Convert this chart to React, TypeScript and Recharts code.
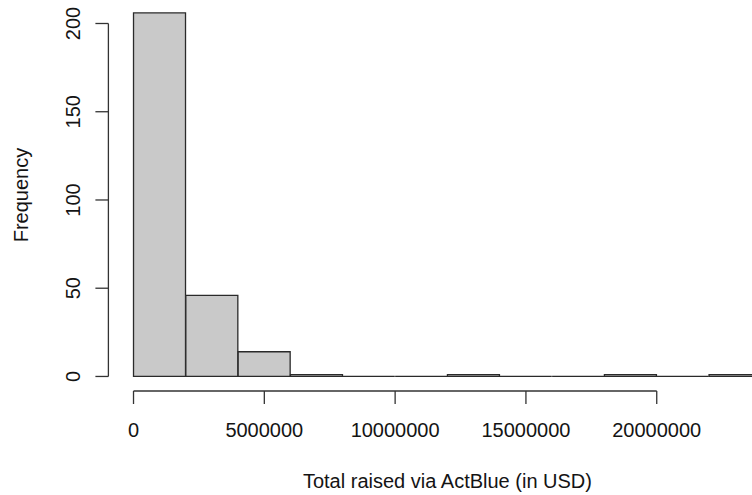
import React from 'react';
import { BarChart, Bar, XAxis, YAxis, ReferenceLine } from 'recharts';

// Histogram of totals raised via ActBlue, bins of 2,000,000 USD
const binStarts = [0, 2000000, 4000000, 6000000, 8000000, 10000000, 12000000, 14000000, 16000000, 18000000, 20000000, 22000000];
const binWidth = 2000000;
const frequencies = [206, 46, 14, 1, 0, 0, 1, 0, 0, 1, 0, 1];
const xTicks = [0, 5000000, 10000000, 15000000, 20000000];
const yTicks = [0, 50, 100, 150, 200];

const data = binStarts.map((start, i) => ({
  bin: `${start}-${start + binWidth}`,
  start,
  count: frequencies[i],
}));

// plotting range padded 4% on each side, as base graphics does
const xMin = binStarts[0];
const xMax = binStarts[binStarts.length - 1] + binWidth;
const xPad = (xMax - xMin) * 0.04;
const yPad = Math.max(...frequencies) * 0.04;

const FONT = '"Liberation Sans", Arial, Helvetica, sans-serif';
const TEXT = '#141414';
const AXIS = '#333333';
const FILL = '#c9c9c9';
const EDGE = '#2a2a2a';

const W = 800;
const H = 495;
const PLOT_LEFT = 108.4;
const PLOT_RIGHT = 786.5;
const PLOT_TOP = 5.85;
const X_AXIS_H = 104;
const plotWidth = PLOT_RIGHT - PLOT_LEFT;
const binPadPx = (plotWidth * xPad) / (xMax - xMin + 2 * xPad);

const HistRect = (props: any) => {
  const { x, y, width, height } = props;
  if (x == null || y == null) return null;
  return (
    <path
      d={`M${x},${y}h${width}v${height}h${-width}Z`}
      fill={FILL}
      stroke={EDGE}
      strokeWidth={1.3}
    />
  );
};

const XTick = (props: any) => {
  const { x, y, payload } = props;
  return (
    <text x={x} y={y + 33} textAnchor="middle" fontFamily={FONT} fontSize={20} fill={TEXT}>
      {String(payload.value)}
    </text>
  );
};

const YTick = (props: any) => {
  const { x, y, payload } = props;
  const bx = x - 15.4;
  return (
    <text
      x={bx}
      y={y}
      transform={`rotate(-90, ${bx}, ${y})`}
      textAnchor="middle"
      fontFamily={FONT}
      fontSize={20}
      fill={TEXT}
    >
      {String(payload.value)}
    </text>
  );
};

const XTitle = (props: any) => {
  const vb = props.viewBox || {};
  return (
    <text
      x={vb.x + vb.width / 2}
      y={vb.y + 97}
      textAnchor="middle"
      fontFamily={FONT}
      fontSize={20}
      fill={TEXT}
    >
      Total raised via ActBlue (in USD)
    </text>
  );
};

const YTitle = (props: any) => {
  const vb = props.viewBox || {};
  const cx = vb.x + 28;
  const cy = vb.y + vb.height / 2 - 3.4;
  return (
    <text
      x={cx}
      y={cy}
      transform={`rotate(-90, ${cx}, ${cy})`}
      textAnchor="middle"
      fontFamily={FONT}
      fontSize={20}
      fill={TEXT}
    >
      Frequency
    </text>
  );
};

export default function App() {
  return (
    <div
      style={{
        position: 'absolute',
        left: 0,
        top: 0,
        width: 752,
        height: 495,
        overflow: 'hidden',
        background: '#ffffff',
      }}
    >
      <BarChart
        width={W}
        height={H}
        data={data}
        margin={{ top: PLOT_TOP, right: W - PLOT_RIGHT, bottom: 0, left: 0 }}
        barCategoryGap={0}
        barGap={0}
      >
        <XAxis
          xAxisId="usd"
          dataKey="start"
          type="number"
          domain={[xMin - xPad, xMax + xPad]}
          allowDataOverflow
          ticks={xTicks}
          interval={0}
          height={X_AXIS_H}
          axisLine={false}
          tickLine={{ stroke: AXIS, strokeWidth: 1.3 }}
          tickSize={13}
          tickMargin={0}
          tick={<XTick />}
          label={<XTitle />}
        />
        <XAxis
          xAxisId="bins"
          dataKey="bin"
          type="category"
          hide
          height={0}
          padding={{ left: binPadPx, right: binPadPx }}
        />
        <YAxis
          type="number"
          domain={[-yPad, 210]}
          allowDataOverflow
          ticks={yTicks}
          interval={0}
          width={PLOT_LEFT}
          axisLine={false}
          tickLine={{ stroke: AXIS, strokeWidth: 1.3 }}
          tickSize={13}
          tickMargin={0}
          tick={<YTick />}
          label={<YTitle />}
        />
        <Bar
          xAxisId="bins"
          dataKey="count"
          shape={<HistRect />}
          isAnimationActive={false}
        />
        <ReferenceLine
          xAxisId="usd"
          segment={[
            { x: xMin - xPad, y: yTicks[0] },
            { x: xMin - xPad, y: yTicks[yTicks.length - 1] },
          ]}
          stroke={AXIS}
          strokeWidth={1.3}
          ifOverflow="visible"
        />
        <ReferenceLine
          xAxisId="usd"
          segment={[
            { x: xTicks[0], y: -yPad },
            { x: xTicks[xTicks.length - 1], y: -yPad },
          ]}
          stroke={AXIS}
          strokeWidth={1.3}
          ifOverflow="visible"
        />
      </BarChart>
    </div>
  );
}
